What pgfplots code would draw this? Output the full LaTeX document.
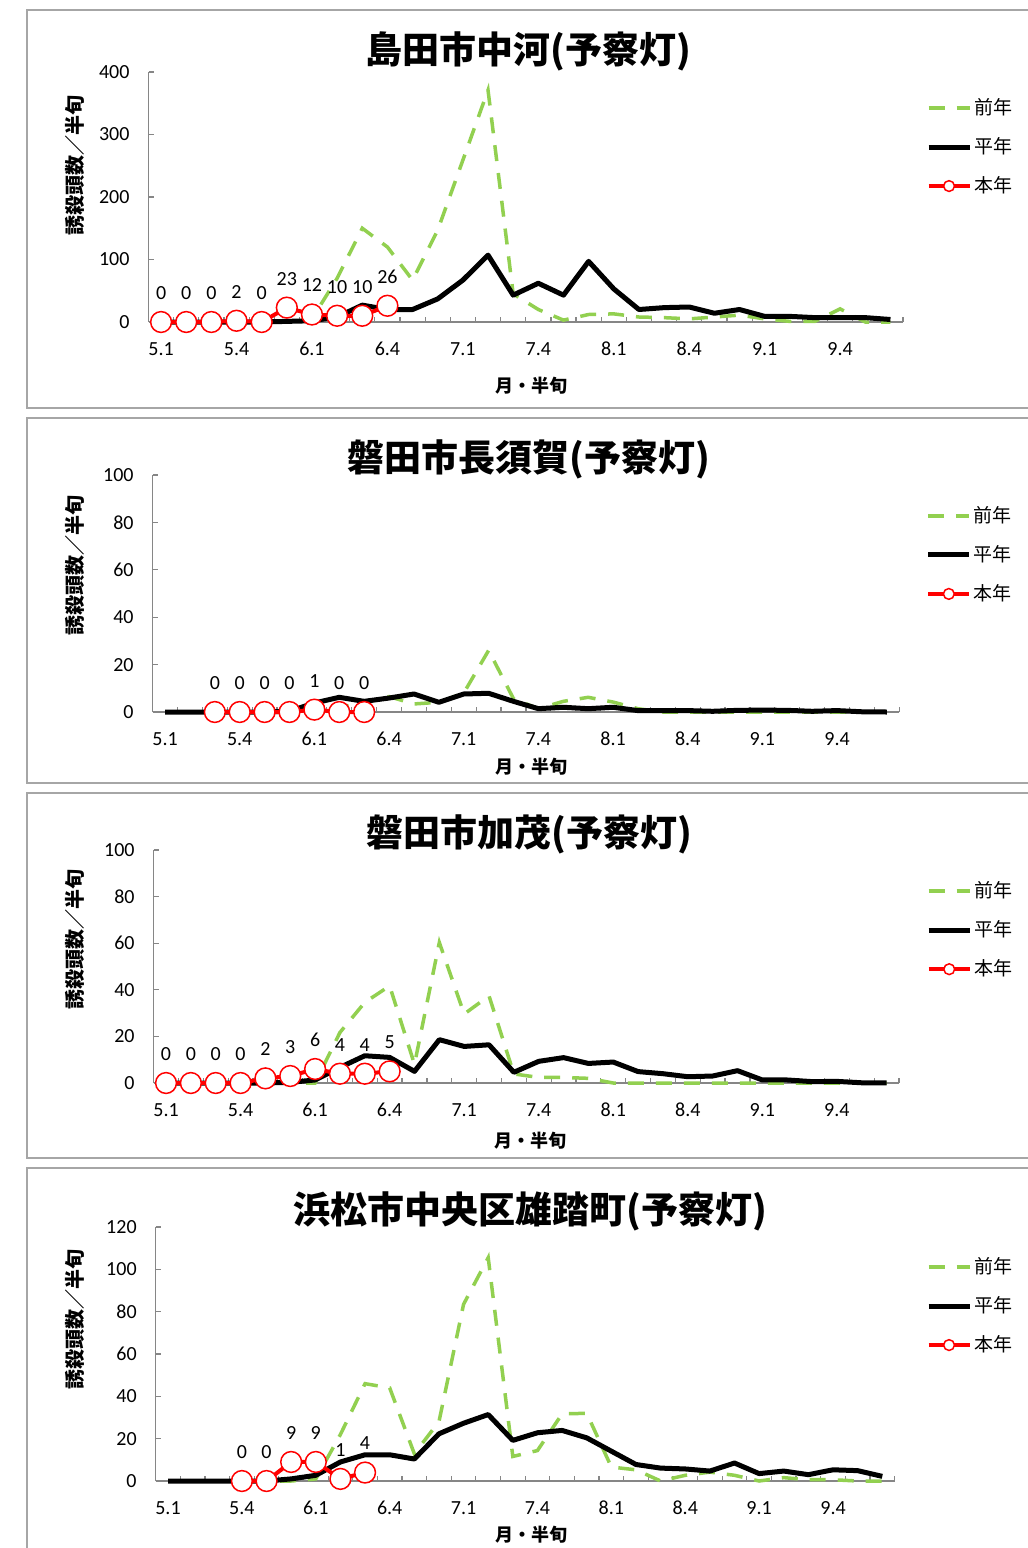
\documentclass[border=0pt]{standalone}
\usepackage{fontspec}
\setmainfont{Carlito}
\newfontfamily\cjk{Noto Sans CJK JP}
\usepackage{pgfplots}
\usepackage{pgfplotstable}
\pgfplotsset{compat=1.18}

\definecolor{prevgreen}{RGB}{146,208,80}
\definecolor{axisgray}{RGB}{134,134,134}
\definecolor{framegray}{RGB}{166,166,166}

\pgfplotsset{
  panel/.style={
    scale only axis, clip=false,
    xmin=-0.5, xmax=29.5, ymin=0,
    axis x line*=bottom, axis y line*=left,
    axis line style={draw=axisgray, line width=0.6pt},
    tick align=inside,
    xtick={0,3,...,27},
    xticklabels={5.1,5.4,6.1,6.4,7.1,7.4,8.1,8.4,9.1,9.4},
    minor xtick={-0.5,0.5,...,29.5},
    major x tick style={draw=none},
    minor x tick style={draw=axisgray, line width=0.6pt},
    minor tick length=2.5pt, major tick length=2.5pt,
    ytick style={draw=axisgray, line width=0.6pt},
    tick label style={font=\fontsize{10}{12}\selectfont},
    xticklabel style={anchor=center, yshift=-13.5pt},
    yticklabel style={xshift=-6pt},
    /pgf/number format/assume math mode=true,
    title style={font=\cjk\bfseries\fontsize{18.5}{22}\selectfont, anchor=center},
    xlabel style={font=\cjk\bfseries\fontsize{9}{11}\selectfont, anchor=center},
    ylabel style={font=\cjk\bfseries\fontsize{10}{12}\selectfont, anchor=center},
    xlabel={月・半旬}, ylabel={誘殺頭数／半旬},
    legend style={draw=none, fill=none, anchor=west,
      font=\cjk\fontsize{9.5}{11}\selectfont,
      row sep=8pt, inner sep=0pt, nodes={inner sep=1pt}},
    legend cell align=left,
    legend image code/.code={\draw[mark repeat=2,mark phase=2,#1,mark size=2.7pt]
      plot coordinates {(0pt,0pt)(10.25pt,0pt)(20.5pt,0pt)};},
  },
  prev/.style={prevgreen, line width=1.75pt, dash pattern=on 8pt off 6pt, no marks},
  norm/.style={black, line width=2.5pt, no marks, line join=round},
  cur/.style={red, line width=2pt, mark=*, mark size=5.2pt,
    mark options={fill=white, draw=red, line width=0.75pt, solid},
    nodes near coords,
    every node near coord/.append style={font=\fontsize{10}{12}\selectfont,
      black, anchor=center, yshift=14.5pt}},
}

% i = half-month index (0 = 5.1 ... 29 = 9.6), zen = 前年, hei = 平年
\pgfplotstableread{
i zen hei
0 0 0
1 0 0
2 0 0
3 0 0
4 0 0
5 0 1
6 5 2
7 70 8
8 150 27
9 120 20
10 67 20
11 147 37
12 259 67
13 371 107
14 45 43
15 20 62
16 3 43
17 12 97
18 13 53
19 8 20
20 7 23
21 5 24
22 8 14
23 11 20
24 5 9
25 1 9
26 1 7
27 21 7
28 0 7
29 0 4
}\tabA

\pgfplotstableread{
i zen hei
0 0 0
1 0 0
2 0 0
3 0 0
4 0 0
5 0 0.3
6 1 3.8
7 2 6.2
8 4 4.5
9 6.5 5.9
10 3.4 7.6
11 4.1 4.1
12 8 7.6
13 26 7.9
14 5.6 4.5
15 1.4 1.4
16 4.5 2.0
17 6.2 1.4
18 4.2 2.0
19 1.4 0.6
20 0 0.6
21 0 0.6
22 0 0.3
23 0 0.7
24 0 0.8
25 0 0.7
26 0 0.3
27 0 0.6
28 0 0.1
29 0 0
}\tabB

\pgfplotstableread{
i zen hei
0 0 0
1 0 0
2 0 0
3 0 0
4 0 0
5 0 0.3
6 0 1.3
7 21.7 6.7
8 34.6 11.7
9 41.7 11
10 8 5
11 60.3 18.6
12 29.6 15.7
13 37.4 16.4
14 3.9 4.6
15 2.4 9.3
16 2.4 10.9
17 2 8.4
18 0 9.0
19 0 4.9
20 0 4
21 0 2.7
22 0 3
23 0 5.3
24 0 1.3
25 0 1.3
26 0 0.6
27 0 0.7
28 0 0.1
29 0 0.1
}\tabC

\pgfplotstableread{
i zen hei
0 0 0
1 0 0
2 0 0
3 0 0
4 0 0
5 0 1
6 1 2.7
7 22 9
8 46 12.4
9 44 12.4
10 12.9 10.4
11 28 22.3
12 83.5 27.3
13 105.5 31.4
14 11.6 19.2
15 14.4 22.8
16 31.7 23.9
17 32 20.4
18 6.6 14.1
19 5.3 7.8
20 0 6.1
21 2.7 5.7
22 4.2 4.7
23 2.7 8.5
24 0 3.5
25 1.6 4.7
26 0.6 3
27 0.6 5.3
28 0 4.9
29 0 2.2
}\tabD

\begin{document}
\begin{tikzpicture}
\useasboundingbox (0,0) rectangle (514pt,-774pt);
% panel frames
\draw[framegray, line width=1pt] (13.5pt,-5pt) rectangle (530pt,-204pt);
\draw[framegray, line width=1pt] (13.5pt,-209pt) rectangle (530pt,-391.5pt);
\draw[framegray, line width=1pt] (13.5pt,-396.5pt) rectangle (530pt,-579pt);
\draw[framegray, line width=1pt] (13.5pt,-584pt) rectangle (530pt,-800pt);

% 島田市中河
\begin{axis}[panel, at={(74.25pt,-161pt)}, anchor=south west,
  width=377.25pt, height=125pt, ymax=400, ytick={0,100,...,400},
  title={島田市中河(予察灯)},
  title style={at={(axis description cs:0.503,1.036)}},
  xlabel style={at={(axis description cs:0.507,-0.256)}},
  ylabel style={at={(axis description cs:-0.0974,0.628)}},
  legend style={at={(axis description cs:1.03,0.700)}}]
\addplot[prev] table[x=i,y=zen]{\tabA};
\addlegendentry{前年}
\addplot[norm] table[x=i,y=hei]{\tabA};
\addlegendentry{平年}
\addplot[cur] coordinates {(0,0)(1,0)(2,0)(3,2)(4,0)(5,23)(6,12)(7,10)(8,10)(9,26)};
\addlegendentry{本年}
\end{axis}

% 磐田市長須賀
\begin{axis}[panel, at={(76.3pt,-356pt)}, anchor=south west,
  width=373.35pt, height=118.5pt, ymax=100, ytick={0,20,...,100},
  title={磐田市長須賀(予察灯)},
  title style={at={(axis description cs:0.504,1.017)}},
  xlabel style={at={(axis description cs:0.507,-0.232)}},
  ylabel style={at={(axis description cs:-0.104,0.62)}},
  legend style={at={(axis description cs:1.035,0.663)}}]
\addplot[prev] table[x=i,y=zen]{\tabB};
\addlegendentry{前年}
\addplot[norm] table[x=i,y=hei]{\tabB};
\addlegendentry{平年}
\addplot[cur] coordinates {(2,0)(3,0)(4,0)(5,0)(6,1)(7,0)(8,0)};
\addlegendentry{本年}
\end{axis}

% 磐田市加茂
\begin{axis}[panel, at={(76.8pt,-541.5pt)}, anchor=south west,
  width=372.7pt, height=116.5pt, ymax=100, ytick={0,20,...,100},
  title={磐田市加茂(予察灯)},
  title style={at={(axis description cs:0.504,1.017)}},
  xlabel style={at={(axis description cs:0.506,-0.249)}},
  ylabel style={at={(axis description cs:-0.105,0.614)}},
  legend style={at={(axis description cs:1.036,0.656)}}]
\addplot[prev] table[x=i,y=zen]{\tabC};
\addlegendentry{前年}
\addplot[norm] table[x=i,y=hei]{\tabC};
\addlegendentry{平年}
\addplot[cur] coordinates {(0,0)(1,0)(2,0)(3,0)(4,2)(5,3)(6,6)(7,4)(8,4)(9,5)};
\addlegendentry{本年}
\end{axis}

% 浜松市中央区雄踏町
\begin{axis}[panel, at={(77.85pt,-740.5pt)}, anchor=south west,
  width=369.45pt, height=127pt, ymax=120, ytick={0,20,...,120},
  title={浜松市中央区雄踏町(予察灯)},
  title style={at={(axis description cs:0.5066,1.016)}},
  xlabel style={at={(axis description cs:0.508,-0.2126)}},
  ylabel style={at={(axis description cs:-0.109,0.634)}},
  legend style={at={(axis description cs:1.042,0.689)}}]
\addplot[prev] table[x=i,y=zen]{\tabD};
\addlegendentry{前年}
\addplot[norm] table[x=i,y=hei]{\tabD};
\addlegendentry{平年}
\addplot[cur] coordinates {(3,0)(4,0)(5,9)(6,9)(7,1)(8,4)};
\addlegendentry{本年}
\end{axis}
\end{tikzpicture}
\end{document}
